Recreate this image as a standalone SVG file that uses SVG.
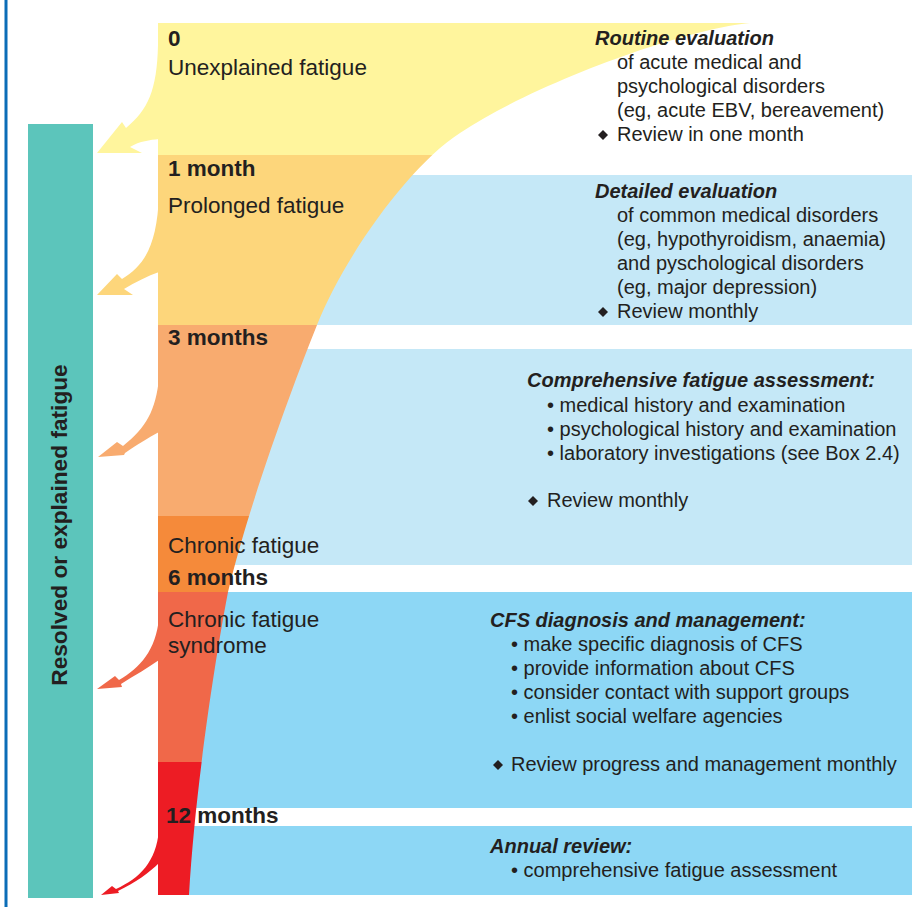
<svg xmlns="http://www.w3.org/2000/svg" width="923" height="907" viewBox="0 0 923 907">
<style>
text{font-family:"Liberation Sans",Arial,sans-serif;fill:#231F20}
.lbl{font-size:22.5px}
.lblb{font-size:22.5px;font-weight:bold}
.t{font-size:20px}
.h{font-size:20px;font-weight:bold;font-style:italic}
.side{font-size:22.7px;font-weight:bold}
.dia{fill:#231F20}
</style>
<defs>
<clipPath id="funnelClip">
<path d="M158,23 L750,23 C690,28 540,80 460,133 C410,165 345,255 317,325 C295,380 250,500 228,592 C215,660 195,790 189,895 L158,895 Z"/>
</clipPath>
<polygon id="diamond" points="0,-5 5,0 0,5 -5,0"/>
</defs>
<rect width="923" height="907" fill="#fff"/>
<line x1="6" y1="0" x2="6" y2="907" stroke="#0B6DB7" stroke-width="3"/>

<g id="panel-backgrounds">
<rect x="158" y="175" width="754" height="150" fill="#C5E8F7"/>
<rect x="158" y="349" width="754" height="216" fill="#C5E8F7"/>
<rect x="158" y="592" width="754" height="216" fill="#8DD7F5"/>
<rect x="158" y="826" width="754" height="69" fill="#8DD7F5"/>
</g>

<g id="funnel" clip-path="url(#funnelClip)">
<rect x="158" y="23" width="600" height="132" fill="#FFF59D"/>
<rect x="158" y="155" width="600" height="170" fill="#FDD67B"/>
<rect x="158" y="325" width="600" height="191" fill="#F8AB6F"/>
<rect x="158" y="516" width="600" height="76" fill="#F58A3A"/>
<rect x="158" y="592" width="600" height="170" fill="#F06849"/>
<rect x="158" y="762" width="600" height="133" fill="#ED1C24"/>
</g>

<g id="resolved-bar">
<rect x="28" y="124" width="65" height="774" fill="#5CC5BB"/>
<text class="side" transform="translate(67,525) rotate(-90)" text-anchor="middle">Resolved or explained fatigue</text>
</g>

<g id="connectors">
<path d="M159,23 L158,45 C157,90 148,110 126,128 L122,122 L97,153 L142,153 L130,147 C140,141 150,140 159,139 Z" fill="#FFF59D"/>
<path d="M159,195 C157,245 145,265 122,279 L117,274 L97,295 L133,295 L124,289 C135,282 148,276 159,272 Z" fill="#FDD67B"/>
<path d="M159,378 C156,410 146,428 123,446 L117,442 L98,457 L124,455 L125,453 C138,444 148,438 159,432 Z" fill="#F8AB6F"/>
<path d="M159,618 C156,650 140,668 119,680 L115,676 L97,689 L122,687 L121,684 C135,675 148,668 159,660 Z" fill="#F06849"/>
<path d="M159,830 C156,862 140,878 116,889 L112,886 L101,895 L119,893 L118,891 C135,883 150,872 159,863 Z" fill="#ED1C24"/>
</g>

<g id="stage-0">
<text class="lblb" x="168" y="46">0</text>
<text class="lbl" x="168" y="75">Unexplained fatigue</text>
</g>
<g id="stage-1month">
<text class="lblb" x="168" y="176">1 month</text>
<text class="lbl" x="168" y="213">Prolonged fatigue</text>
</g>
<g id="stage-3months">
<text class="lblb" x="168" y="345">3 months</text>
<text class="lbl" x="168" y="553">Chronic fatigue</text>
</g>
<g id="stage-6months">
<text class="lblb" x="168" y="585">6 months</text>
<text class="lbl" x="168" y="627">Chronic fatigue</text>
<text class="lbl" x="168" y="653">syndrome</text>
</g>
<g id="stage-12months">
<text class="lblb" x="166" y="823">12 months</text>
</g>

<g id="panel-routine">
<text class="h" x="595" y="45">Routine evaluation</text>
<text class="t" x="617" y="69">of acute medical and</text>
<text class="t" x="617" y="93">psychological disorders</text>
<text class="t" x="617" y="117">(eg, acute EBV, bereavement)</text>
<use href="#diamond" class="dia" x="603" y="135"/>
<text class="t" x="617" y="141">Review in one month</text>
</g>

<g id="panel-detailed">
<text class="h" x="595" y="198">Detailed evaluation</text>
<text class="t" x="617" y="222">of common medical disorders</text>
<text class="t" x="617" y="246">(eg, hypothyroidism, anaemia)</text>
<text class="t" x="617" y="270">and pyschological disorders</text>
<text class="t" x="617" y="294">(eg, major depression)</text>
<use href="#diamond" class="dia" x="603" y="312"/>
<text class="t" x="617" y="318">Review monthly</text>
</g>

<g id="panel-comprehensive">
<text class="h" x="527" y="387">Comprehensive fatigue assessment:</text>
<text class="t" x="547" y="412">• medical history and examination</text>
<text class="t" x="547" y="436">• psychological history and examination</text>
<text class="t" x="547" y="460">• laboratory investigations (see Box 2.4)</text>
<use href="#diamond" class="dia" x="533" y="501"/>
<text class="t" x="547" y="507">Review monthly</text>
</g>

<g id="panel-cfs">
<text class="h" x="490" y="627">CFS diagnosis and management:</text>
<text class="t" x="511" y="651">• make specific diagnosis of CFS</text>
<text class="t" x="511" y="675">• provide information about CFS</text>
<text class="t" x="511" y="699">• consider contact with support groups</text>
<text class="t" x="511" y="723">• enlist social welfare agencies</text>
<use href="#diamond" class="dia" x="498" y="765"/>
<text class="t" x="511" y="771">Review progress and management monthly</text>
</g>

<g id="panel-annual">
<text class="h" x="490" y="853">Annual review:</text>
<text class="t" x="511" y="877">• comprehensive fatigue assessment</text>
</g>
</svg>
